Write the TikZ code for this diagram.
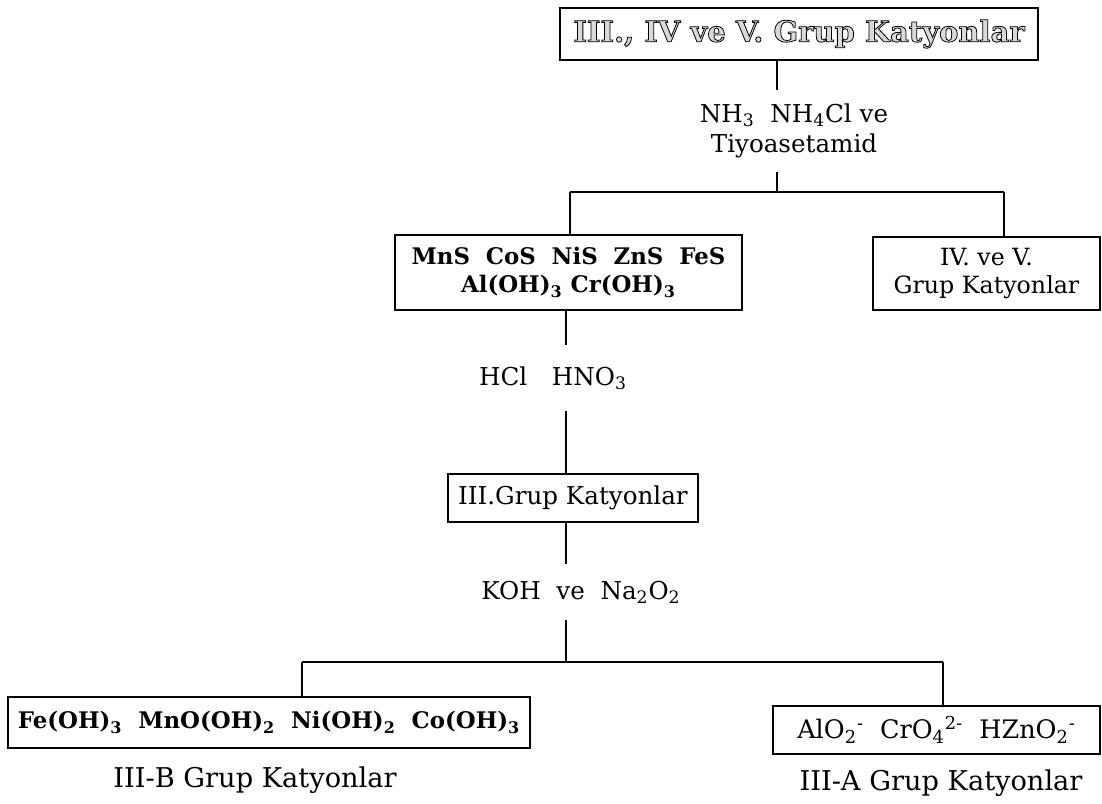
\documentclass[tikz,border=0pt]{standalone}
\usepackage{fontspec}
\setmainfont{DejaVu Serif}
\newcommand{\outlinetext}[1]{\special{pdf:literal 2 Tr 0.45 w 0.85 g 0 G}#1\special{pdf:literal 0 Tr 0 g 0 G}}
\begin{document}
\begin{tikzpicture}[x=0.02cm,y=-0.02cm,
  box/.style={draw, line width=0.9pt, inner sep=0pt, align=center},
  lab/.style={inner sep=0pt, align=center, font=\fontsize{14}{17}\selectfont},
  captext/.style={inner sep=0pt, font=\fontsize{15.5}{18}\selectfont},
  conn/.style={line width=0.6pt}]
\useasboundingbox (0,0) rectangle (1102,804);

% nodes
\node[box, minimum width=9.56cm, minimum height=1.04cm, font=\fontsize{16.5}{19}\selectfont\bfseries] (top) at (799,34) {\outlinetext{III., IV ve V. Grup Katyonlar}};
\node[lab, minimum height=1.64cm] (lab1) at (794,131) {NH\textsubscript{3}\ \ NH\textsubscript{4}Cl ve\\Tiyoasetamid};
\node[box, minimum width=6.94cm, minimum height=1.5cm, font=\fontsize{13}{16}\selectfont\bfseries] (lbox) at (568.5,272.5) {MnS\ \ CoS\ \ NiS\ \ ZnS\ \ FeS\\Al(OH)\textsubscript{3}\ Cr(OH)\textsubscript{3}};
\node[box, minimum width=4.54cm, minimum height=1.46cm, font=\fontsize{13.5}{16}\selectfont] (rbox) at (986.5,273.5) {IV. ve V.\\Grup Katyonlar};
\node[lab, minimum height=1.3cm] (lab2) at (553,378) {HCl\quad HNO\textsubscript{3}};
\node[box, minimum width=5.0cm, minimum height=0.96cm, font=\fontsize{14}{16}\selectfont] (gbox) at (573,498) {III.Grup Katyonlar};
\node[lab, minimum height=1.1cm] (lab3) at (581,592) {KOH\ \ ve\ \ Na\textsubscript{2}O\textsubscript{2}};
\node[box, minimum width=10.44cm, minimum height=1.02cm, font=\fontsize{13}{15}\selectfont\bfseries] (bl) at (269,722.5) {Fe(OH)\textsubscript{3}\ \ MnO(OH)\textsubscript{2}\ \ Ni(OH)\textsubscript{2}\ \ Co(OH)\textsubscript{3}};
\node[box, minimum width=6.54cm, minimum height=0.96cm, font=\fontsize{14.5}{16}\selectfont] (br) at (936.5,730) {AlO\textsubscript{2}\textsuperscript{-}\ \ CrO\textsubscript{4}\textsuperscript{2-}\ \ HZnO\textsubscript{2}\textsuperscript{-}};
\node[captext] (capB) at (255,780) {III-B Grup Katyonlar};
\node[captext] (capA) at (941,783) {III-A Grup Katyonlar};

% junctions
\coordinate (c1) at (777,192);
\coordinate (c1l) at (570,192);
\coordinate (c1r) at (1004,192);
\coordinate (m) at (566,0);
\coordinate (c2) at (566,662);
\coordinate (c2l) at (302,662);
\coordinate (c2r) at (943,662);

% connectors
\draw[conn] (top.south -| c1) -- (lab1.north -| c1);
\draw[conn] (lab1.south -| c1) -- (c1);
\draw[conn] (c1l) -- (c1r);
\draw[conn] (c1l) -- (lbox.north -| c1l);
\draw[conn] (c1r) -- (rbox.north -| c1r);
\draw[conn] (lbox.south -| m) -- (lab2.north -| m);
\draw[conn] (lab2.south -| m) -- (gbox.north -| m);
\draw[conn] (gbox.south -| m) -- (lab3.north -| m);
\draw[conn] (lab3.south -| m) -- (c2);
\draw[conn] (c2l) -- (c2r);
\draw[conn] (c2l) -- (bl.north -| c2l);
\draw[conn] (c2r) -- (br.north -| c2r);
\end{tikzpicture}
\end{document}
